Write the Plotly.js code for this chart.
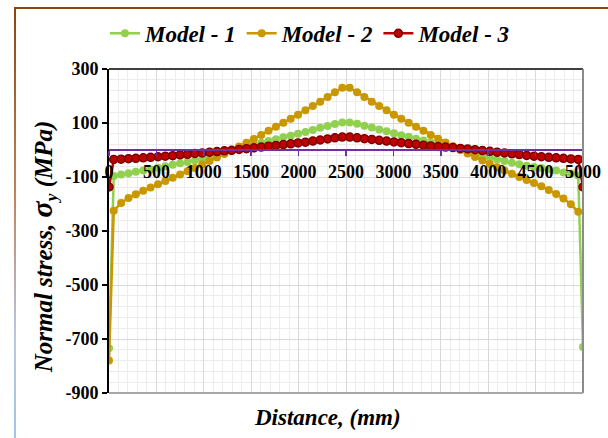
<!DOCTYPE html>
<html>
<head>
<meta charset="utf-8">
<script src="https://cdn.plot.ly/plotly-3.0.1.min.js"></script>
<style>
  html, body { margin: 0; padding: 0; background: #ffffff; }
  #wrap { position: relative; width: 608px; height: 438px; overflow: hidden; }
  #chart { position: absolute; left: 0; top: 0; width: 608px; height: 438px; }
  #ftop { position: absolute; left: 14px; top: 7px; width: 600px; height: 2px; background: #8a4513; pointer-events: none; }
  #fleft { position: absolute; left: 14px; top: 7px; width: 2px; height: 440px; pointer-events: none;
           background: linear-gradient(to bottom, #8a4513 0%, #c08860 45%, #b8c8e8 75%, #9dc3e6 100%); }
</style>
</head>
<body>
<div id="wrap">
  <div id="chart"></div>
  <div id="ftop"></div>
  <div id="fleft"></div>
</div>
<script>
// Distance along the member (mm)
const distance = [0, 50, 128, 206, 283, 361, 439, 517, 594, 672, 750, 828, 906, 983, 1061, 1139, 1217,
  1294, 1372, 1450, 1528, 1606, 1683, 1761, 1839, 1917, 1994, 2072, 2150, 2228, 2306, 2383, 2461,
  2539, 2617, 2694, 2772, 2850, 2928, 3006, 3083, 3161, 3239, 3317, 3394, 3472, 3550, 3628, 3706,
  3783, 3861, 3939, 4017, 4094, 4172, 4250, 4328, 4406, 4483, 4561, 4639, 4717, 4794, 4872, 4950, 5000];

// Normal stress sigma_y (MPa)
const model1 = [-734, -96, -91, -86, -81, -76, -71, -66, -60, -55, -49, -44, -38, -33, -25, -18, -10,
  -3, 5, 12, 20, 27, 33, 40, 47, 53, 60, 67, 74, 82, 89, 96, 102,
  102, 97, 90, 83, 76, 69, 62, 55, 49, 42, 35, 28, 21, 14, 7, 0,
  -7, -14, -21, -28, -35, -41, -47, -53, -58, -63, -67, -71, -76, -83, -87, -94, -730];

const model2 = [-780, -225, -196, -178, -164, -151, -139, -127, -115, -103, -91, -79, -67, -54, -41, -28, -15,
  -1, 13, 27, 41, 56, 71, 86, 101, 116, 131, 147, 163, 179, 196, 214, 231,
  231, 214, 196, 179, 163, 147, 131, 116, 101, 86, 71, 56, 42, 28, 14, 0,
  -13, -26, -39, -52, -64, -76, -88, -100, -111, -122, -134, -148, -163, -180, -201, -229, null];

const model3 = [-137, -35, -34, -32, -31, -29, -27, -25, -23, -21, -18, -16, -13, -11, -8, -6, -3,
  -1, 2, 5, 8, 11, 14, 17, 20, 23, 26, 29, 33, 37, 41, 45, 48,
  48, 45, 42, 39, 36, 33, 30, 27, 24, 21, 18, 15, 13, 11, 9, 6,
  4, 1, -2, -5, -8, -11, -14, -17, -20, -23, -25, -27, -29, -31, -33, -35, -137];

const seriesNames = ["Model - 1", "Model - 2", "Model - 3"];
const xTicks = [0, 500, 1000, 1500, 2000, 2500, 3000, 3500, 4000, 4500, 5000];
const yTicks = [-900, -700, -500, -300, -100, 100, 300];

const serif = "Liberation Serif, Times New Roman, serif";

const traces = [
  { x: distance, y: model1, name: seriesNames[0], type: "scatter", mode: "lines+markers",
    line: { color: "#92d050", width: 2.5 },
    marker: { color: "#92d050", size: 8, symbol: "circle" } },
  { x: distance, y: model2, name: seriesNames[1], type: "scatter", mode: "lines+markers",
    line: { color: "#c99700", width: 2.5 },
    marker: { color: "#c99700", size: 8, symbol: "circle" } },
  { x: distance, y: model3, name: seriesNames[2], type: "scatter", mode: "lines+markers",
    line: { color: "#c00000", width: 2.5 },
    marker: { color: "#c00000", size: 8, symbol: "circle", line: { color: "#7a0000", width: 1.5 } } }
];

const layout = {
  width: 608, height: 438,
  margin: { l: 109, r: 25, t: 67, b: 45 },
  paper_bgcolor: "rgba(0,0,0,0)",
  plot_bgcolor: "#ffffff",
  font: { family: serif, color: "#000000" },
  showlegend: true,
  legend: { orientation: "h", x: 0.425, xanchor: "center", y: 1.11, yanchor: "middle",
            font: { family: serif, size: 23, weight: "bold", style: "italic", color: "#000" },
            itemwidth: 30, tracegroupgap: 0, bgcolor: "rgba(0,0,0,0)" },
  xaxis: {
    range: [0, 5000], tickvals: xTicks, ticktext: xTicks.map(String),
    anchor: "free", position: 0.75,
    showline: true, linecolor: "#7030a0", linewidth: 2,
    ticks: "outside", ticklen: 5, tickwidth: 1.5, tickcolor: "#7030a0",
    tickfont: { family: serif, size: 18, weight: "bold", color: "#000" },
    showgrid: true, gridcolor: "#d9d9d9", gridwidth: 1,
    minor: { dtick: 100, tick0: 0, showgrid: true, gridcolor: "#ececec", gridwidth: 1, ticks: "" },
    zeroline: false, fixedrange: true
  },
  yaxis: {
    range: [-900, 300], tickvals: yTicks, ticktext: yTicks.map(String),
    showline: true, linecolor: "#000000", linewidth: 2,
    ticks: "outside", ticklen: 5, tickwidth: 2, tickcolor: "#000",
    tickfont: { family: serif, size: 18, weight: "bold", color: "#000" },
    showgrid: true, gridcolor: "#d9d9d9", gridwidth: 1,
    minor: { dtick: 40, tick0: -900, showgrid: true, gridcolor: "#ececec", gridwidth: 1, ticks: "" },
    zeroline: false, fixedrange: true
  },
  shapes: [
    { type: "line", xref: "paper", yref: "paper", x0: 0, x1: 1, y0: 1, y1: 1, line: { color: "#404040", width: 2 } },
    { type: "line", xref: "paper", yref: "paper", x0: 1, x1: 1, y0: 0, y1: 1, line: { color: "#8c8c8c", width: 2 } },
    { type: "line", xref: "paper", yref: "paper", x0: 0, x1: 1, y0: 0, y1: 0, line: { color: "#a6a6a6", width: 2 } }
  ],
  annotations: [
    { text: "<b><i>Distance, (mm)</i></b>", xref: "paper", yref: "paper", x: 0.462, y: -0.077,
      xanchor: "center", yanchor: "middle", showarrow: false,
      font: { family: serif, size: 23, color: "#000" } },
    { text: "<b><i>Normal stress, <span style='font-size:30px'>σ</span><sub>y</sub> (MPa)</i></b>",
      xref: "paper", yref: "paper", x: -0.139, y: 0.45, textangle: -90,
      xanchor: "center", yanchor: "middle", showarrow: false,
      font: { family: serif, size: 25, color: "#000" } }
  ]
};

Plotly.newPlot("chart", traces, layout, { displayModeBar: false, staticPlot: true });
</script>
</body>
</html>
